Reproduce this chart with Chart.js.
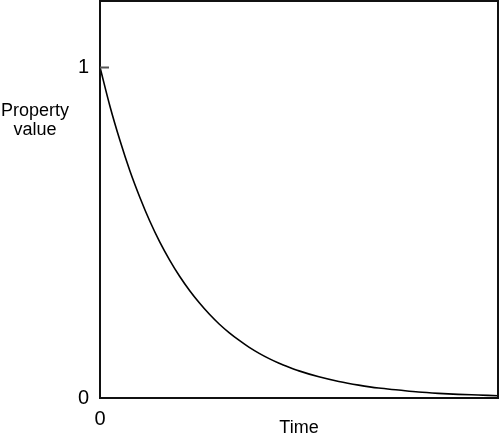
<!DOCTYPE html>
<html>
<head>
<meta charset="utf-8">
<script src="https://cdn.jsdelivr.net/npm/chart.js@4"></script>
<style>
html,body{margin:0;padding:0;background:#fff;}
#wrap{width:500px;height:436px;position:relative;}
</style>
</head>
<body>
<div id="wrap"><canvas id="c" width="500" height="436"></canvas></div>
<script>
// Time samples (arbitrary units) and property values
const timePoints = [0,0.5,1,1.5,2,2.5,3,3.5,4,4.5,5,5.5,6,6.5,7,7.5,8,8.5,9,9.5,10,11,12,13,14,15,16,17,18,19,20];
const propertyValues = [1.0,0.882,0.779,0.687,0.607,0.535,0.472,0.417,0.368,0.325,0.287,0.253,0.223,0.197,0.174,0.153,0.135,0.119,0.105,0.093,0.082,0.064,0.05,0.039,0.03,0.024,0.018,0.014,0.011,0.009,0.007];
const yTickValues = [0, 1];
const xTickValues = [0];
const xAxisTitle = "Time";
const yAxisTitleLines = ["Property", "value"];

const FONT = "'Liberation Sans', Arial, sans-serif";

const framePlugin = {
  id: 'frame',
  afterDraw(chart) {
    const {ctx, chartArea: a, scales} = chart;
    ctx.save();
    ctx.strokeStyle = '#111';
    ctx.lineWidth = 2;
    ctx.strokeRect(a.left, a.top, a.right - a.left, a.bottom - a.top);
    // inward tick at y = 1
    const y1 = Math.round(scales.y.getPixelForValue(1)) + 0.5;
    ctx.strokeStyle = '#555';
    ctx.lineWidth = 2;
    ctx.beginPath();
    ctx.moveTo(a.left, y1);
    ctx.lineTo(a.left + 9, y1);
    ctx.stroke();
    // titles
    ctx.fillStyle = '#000';
    ctx.font = '18px ' + FONT;
    ctx.textAlign = 'center';
    ctx.textBaseline = 'middle';
    ctx.fillText(yAxisTitleLines[0], 35, 111);
    ctx.fillText(yAxisTitleLines[1], 35, 130);
    ctx.fillText(xAxisTitle, (a.left + a.right) / 2, 428);
    ctx.restore();
  }
};

new Chart(document.getElementById('c'), {
  type: 'line',
  data: {
    datasets: [{
      data: timePoints.map((t, i) => ({x: t, y: propertyValues[i]})),
      borderColor: '#000',
      borderWidth: 1.6,
      pointRadius: 0,
      fill: false,
      cubicInterpolationMode: 'monotone'
    }]
  },
  options: {
    responsive: false,
    animation: false,
    devicePixelRatio: 1,
    layout: {padding: {top: 1, right: 2, left: 0, bottom: 0}},
    plugins: {legend: {display: false}, tooltip: {enabled: false}},
    scales: {
      x: {
        type: 'linear',
        min: 0, max: 20,
        afterBuildTicks: s => { s.ticks = xTickValues.map(v => ({value: v})); },
        afterFit: s => { s.height = 38; s.paddingLeft = 0; s.paddingRight = 0; },
        grid: {display: false, drawTicks: false},
        border: {display: false},
        ticks: {color: '#000', font: {size: 20, family: FONT}, padding: 9, maxRotation: 0}
      },
      y: {
        min: 0, max: 1.2,
        afterBuildTicks: s => { s.ticks = yTickValues.map(v => ({value: v})); },
        afterFit: s => { s.width = 100; s.paddingTop = 0; s.paddingBottom = 0; },
        grid: {display: false, drawTicks: false},
        border: {display: false},
        ticks: {color: '#000', font: {size: 20, family: FONT}, padding: 11}
      }
    }
  },
  plugins: [framePlugin]
});
</script>
</body>
</html>
